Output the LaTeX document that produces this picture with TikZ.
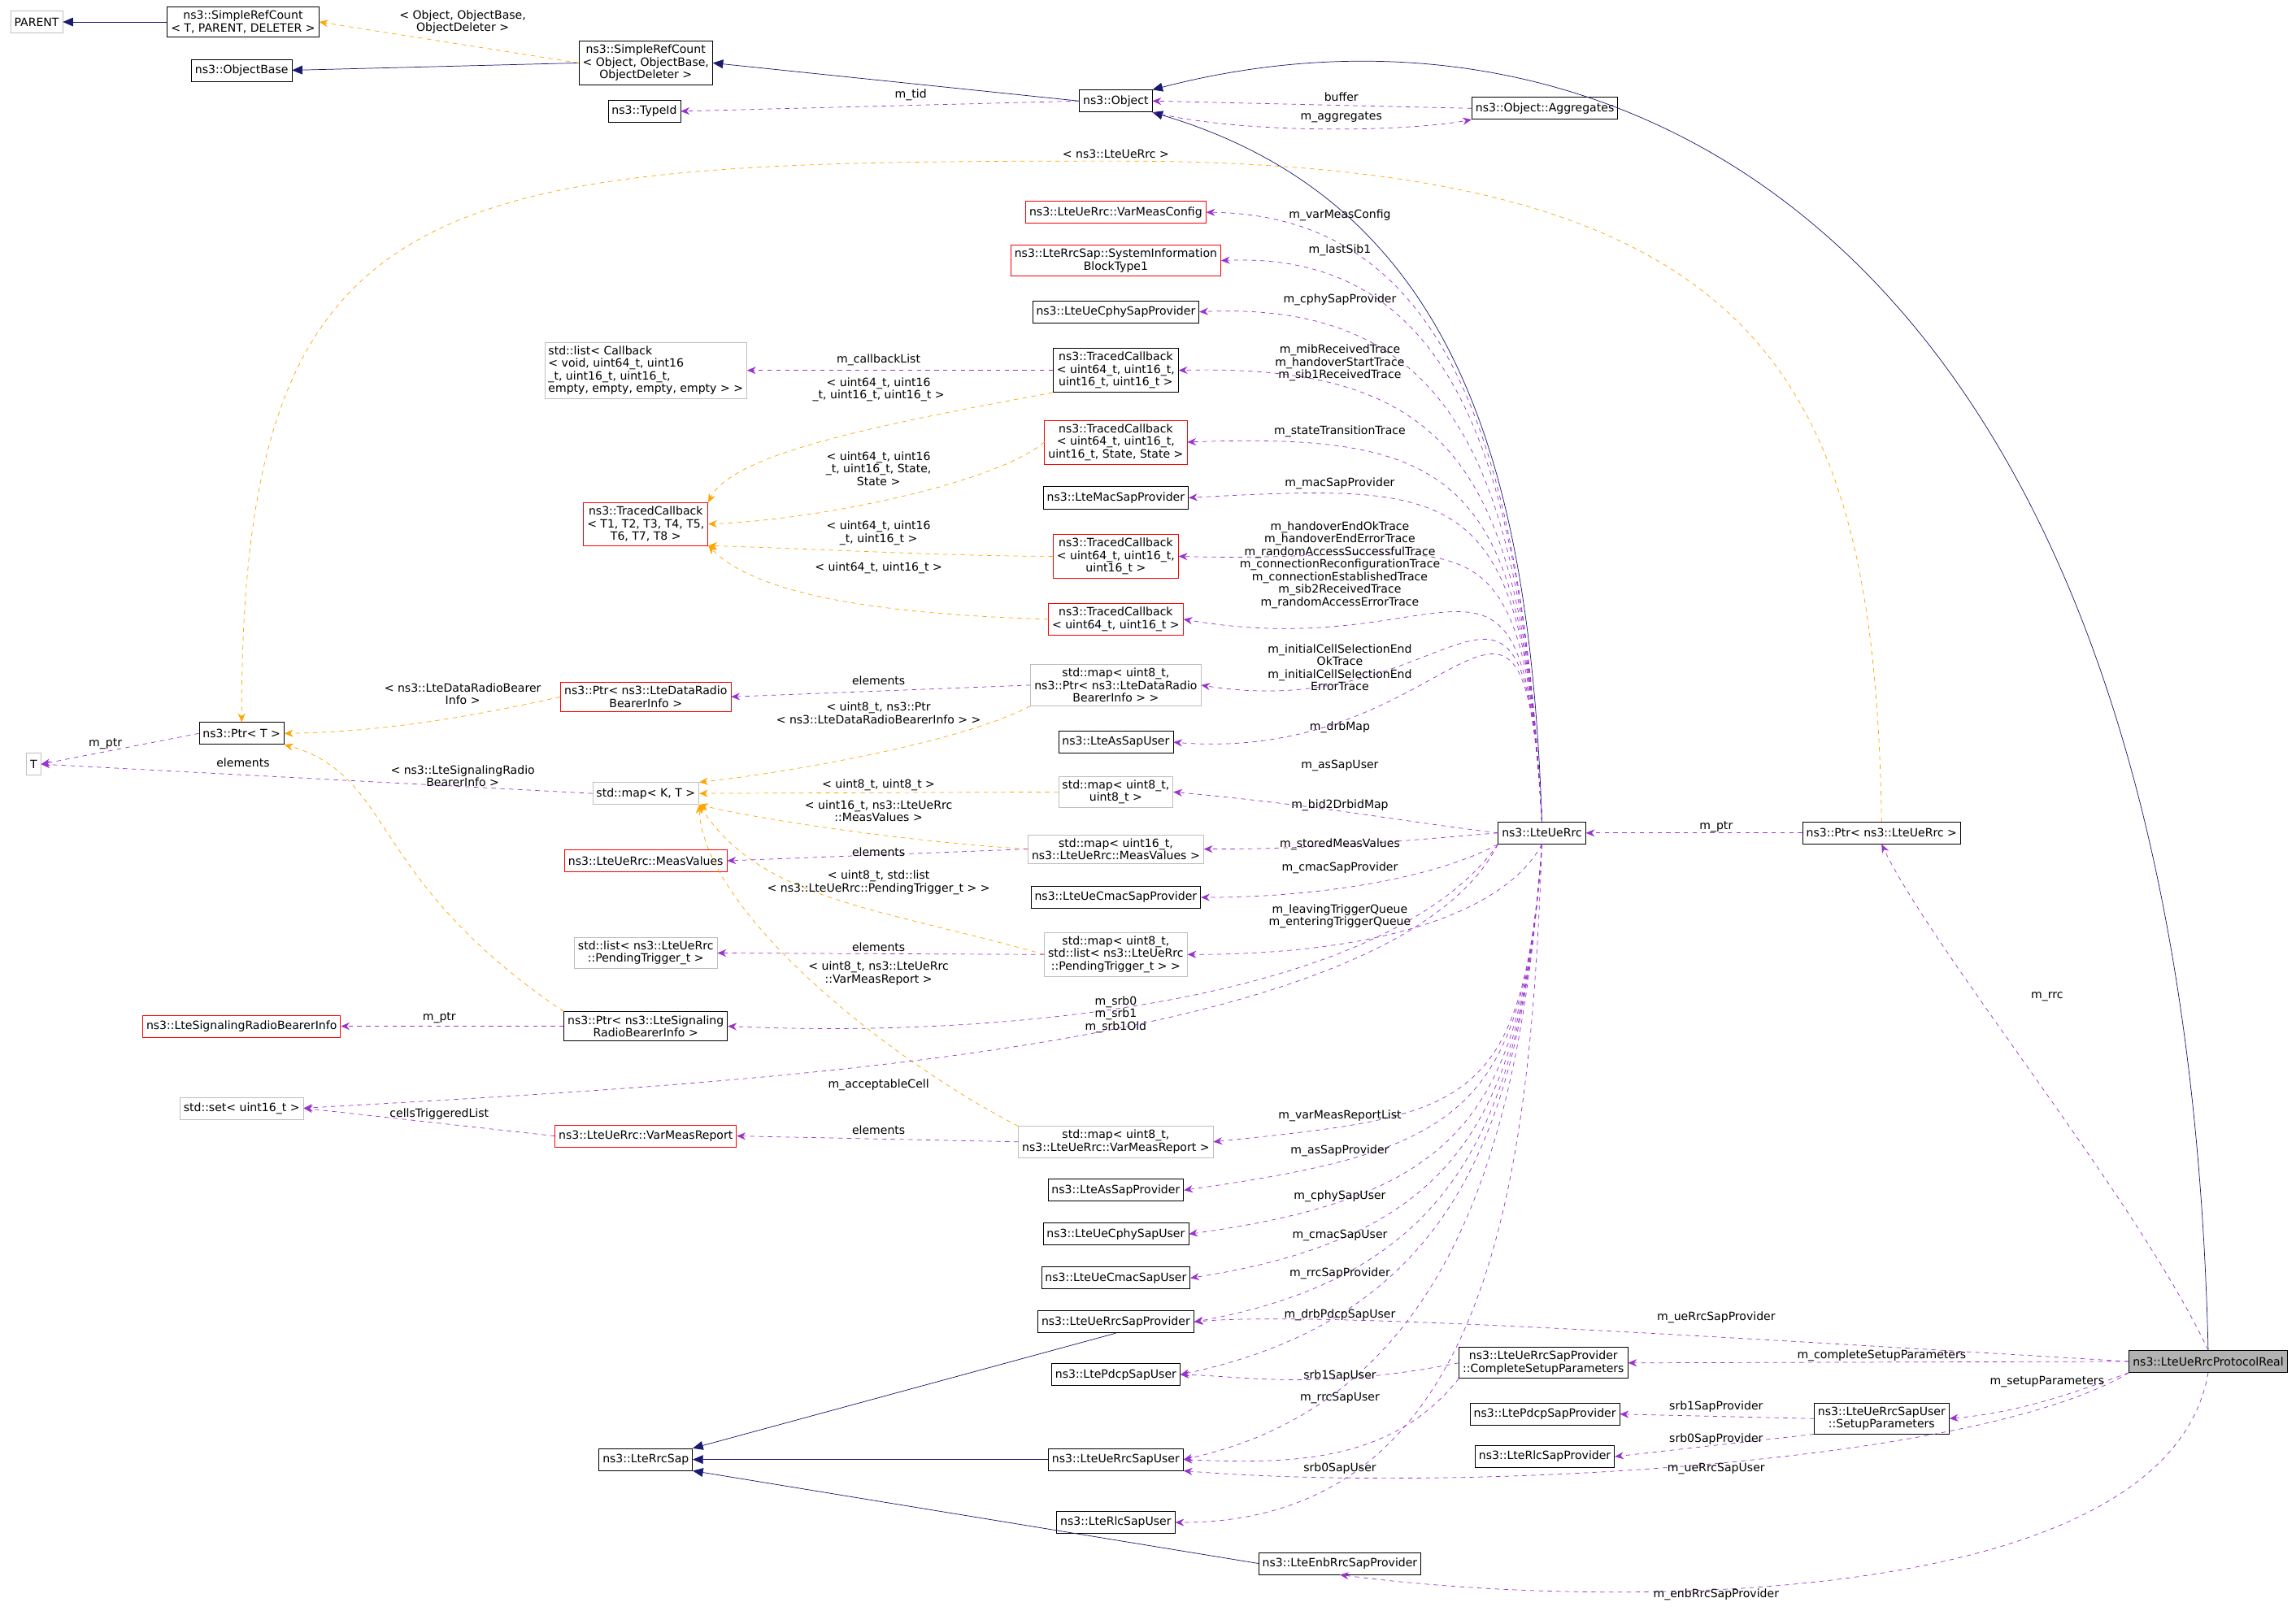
\documentclass[tikz,border=0pt]{standalone}
\usepackage{fontspec}
\setmainfont{DejaVu Sans}
\usetikzlibrary{arrows.meta}
\definecolor{mem}{HTML}{9A32CD}
\definecolor{tpl}{HTML}{FFA500}
\definecolor{inh}{HTML}{191970}
\tikzset{
 bx/.style={draw=black,fill=white,font=\fontsize{7.8}{8.6}\selectfont,inner sep=2.5pt,align=center,minimum height=15pt},
 gbx/.style={bx,draw=gray!50},
 rbx/.style={bx,draw=red},
 lbl/.style={font=\fontsize{7.8}{8.6}\selectfont,align=center,inner sep=0pt},
 inhl/.style={draw=inh,-{Triangle[length=7pt,width=6pt]},fill=none},
 meml/.style={draw=mem,dashed,-{Stealth[length=6pt,width=5pt,fill=mem]}},
 tpll/.style={draw=tpl,dashed,-{Stealth[length=6pt,width=5pt,fill=tpl]}},
}
\begin{document}
\begin{tikzpicture}[x=1pt,y=-1pt]
\useasboundingbox[fill=white] (0,0) rectangle (1568,1100);
% nodes
\node[gbx] (PARENT) at (25,15) {PARENT};
\node[bx] (SRC1) at (166,15) {ns3::SimpleRefCount\\< T, PARENT, DELETER >};
\node[bx] (OB) at (165,48) {ns3::ObjectBase};
\node[bx] (SRC2) at (441,43) {ns3::SimpleRefCount\\< Object, ObjectBase,\\ObjectDeleter >};
\node[bx] (TID) at (440,76) {ns3::TypeId};
\node[bx] (OBJ) at (762,69) {ns3::Object};
\node[bx] (AGG) at (1055,74) {ns3::Object::Aggregates};
\node[rbx] (VMC) at (762,145) {ns3::LteUeRrc::VarMeasConfig};
\node[rbx] (SIB) at (762,178) {ns3::LteRrcSap::SystemInformation\\BlockType1};
\node[bx] (CPP) at (762,213) {ns3::LteUeCphySapProvider};
\node[gbx,align=left] (LCB) at (441,253) {std::list< Callback\\< void, uint64\_t, uint16\\\_t, uint16\_t, uint16\_t,\\ empty, empty, empty, empty > >};
\node[bx] (TC4) at (762,253) {ns3::TracedCallback\\< uint64\_t, uint16\_t,\\ uint16\_t, uint16\_t >};
\node[rbx] (TCS) at (762,302) {ns3::TracedCallback\\< uint64\_t, uint16\_t,\\ uint16\_t, State, State >};
\node[rbx] (TCT) at (441,358) {ns3::TracedCallback\\< T1, T2, T3, T4, T5,\\ T6, T7, T8 >};
\node[bx] (MSP) at (762,340) {ns3::LteMacSapProvider};
\node[rbx] (TC3) at (762,380) {ns3::TracedCallback\\< uint64\_t, uint16\_t,\\ uint16\_t >};
\node[rbx] (TC2) at (762,423) {ns3::TracedCallback\\< uint64\_t, uint16\_t >};
\node[rbx] (PDR) at (441,476) {ns3::Ptr< ns3::LteDataRadio\\BearerInfo >};
\node[gbx] (MDR) at (762,468) {std::map< uint8\_t,\\ ns3::Ptr< ns3::LteDataRadio\\BearerInfo > >};
\node[bx] (PT) at (165,501) {ns3::Ptr< T >};
\node[gbx] (T) at (23,522) {T};
\node[bx] (ASU) at (762,507) {ns3::LteAsSapUser};
\node[gbx] (MKT) at (441,542) {std::map< K, T >};
\node[gbx] (M88) at (762,541) {std::map< uint8\_t,\\ uint8\_t >};
\node[rbx] (MV) at (441,588) {ns3::LteUeRrc::MeasValues};
\node[gbx] (MMV) at (762,580) {std::map< uint16\_t,\\ ns3::LteUeRrc::MeasValues >};
\node[bx] (CMP) at (762,613) {ns3::LteUeCmacSapProvider};
\node[gbx] (LPT) at (441,651) {std::list< ns3::LteUeRrc\\::PendingTrigger\_t >};
\node[gbx] (MPT) at (762,652) {std::map< uint8\_t,\\ std::list< ns3::LteUeRrc\\::PendingTrigger\_t > >};
\node[rbx] (SRB) at (165,701) {ns3::LteSignalingRadioBearerInfo};
\node[bx] (PSR) at (441,701) {ns3::Ptr< ns3::LteSignaling\\RadioBearerInfo >};
\node[gbx] (SET) at (165,757) {std::set< uint16\_t >};
\node[rbx] (VMR) at (441,776) {ns3::LteUeRrc::VarMeasReport};
\node[gbx] (MVR) at (762,780) {std::map< uint8\_t,\\ ns3::LteUeRrc::VarMeasReport >};
\node[bx] (ASP) at (762,813) {ns3::LteAsSapProvider};
\node[bx] (CSU) at (762,843) {ns3::LteUeCphySapUser};
\node[bx] (CMU) at (762,873) {ns3::LteUeCmacSapUser};
\node[bx] (URP) at (762,903) {ns3::LteUeRrcSapProvider};
\node[bx] (PSU) at (762,939) {ns3::LtePdcpSapUser};
\node[bx] (RS) at (441,997) {ns3::LteRrcSap};
\node[bx] (URU) at (762,997) {ns3::LteUeRrcSapUser};
\node[bx] (RLU) at (762,1040) {ns3::LteRlcSapUser};
\node[bx] (ENB) at (915,1068) {ns3::LteEnbRrcSapProvider};
\node[bx] (UR) at (1053,569) {ns3::LteUeRrc};
\node[bx] (CSP) at (1054,931) {ns3::LteUeRrcSapProvider\\::CompleteSetupParameters};
\node[bx] (PSP) at (1055,966) {ns3::LtePdcpSapProvider};
\node[bx] (RSP) at (1055,995) {ns3::LteRlcSapProvider};
\node[bx] (SUP) at (1285,969) {ns3::LteUeRrcSapUser\\::SetupParameters};
\node[bx] (PUR) at (1285,569) {ns3::Ptr< ns3::LteUeRrc >};
\node[bx,fill=gray!60] (PR) at (1508,930) {ns3::LteUeRrcProtocolReal};
% inheritance
\draw[inhl] (SRC1.west) -- (PARENT.east);
\draw[inhl] (SRC2.west) -- (OB.east);
\draw[inhl] (OBJ.west) -- (SRC2.east);
\draw[inhl] (UR.north) .. controls (1045,330) and (1000,140) .. (OBJ.south east);
\draw[inhl] (PR.north) .. controls (1490,150) and (1100,-20) .. (OBJ.north east);
\draw[inhl] (URP.south) -- (RS.north east);
\draw[inhl] (URU.west) -- (RS.east);
\draw[inhl] (ENB.west) -- (RS.south east);
% templates
\draw[tpll] (SRC2.west) -- (SRC1.east);
\node[lbl] (t1) at (316,15) {< Object, ObjectBase,\\ObjectDeleter >};
\draw[tpll] (PUR.north) .. controls (1280,250) and (1200,110) .. (762,110) .. controls (300,110) and (165,120) .. (PT.north);
\node[lbl] (t2) at (762,105) {< ns3::LteUeRrc >};
\draw[tpll] (TC4.south west) .. controls (600,290) and (500,310) .. (TCT.north east);
\node[lbl] (t3) at (600,266) {< uint64\_t, uint16\\\_t, uint16\_t, uint16\_t >};
\draw[tpll] (TCS.west) .. controls (680,330) and (560,355) .. (TCT.east);
\node[lbl] (t4) at (600,320) {< uint64\_t, uint16\\\_t, uint16\_t, State,\\State >};
\draw[tpll] (TC3.west) .. controls (650,380) and (560,375) .. (TCT.south east);
\node[lbl] (t5) at (600,364) {< uint64\_t, uint16\\\_t, uint16\_t >};
\draw[tpll] (TC2.west) .. controls (620,420) and (520,410) .. (TCT.south east);
\node[lbl] (t6) at (600,388) {< uint64\_t, uint16\_t >};
\draw[tpll] (PDR.west) .. controls (320,490) and (260,500) .. (PT.east);
\node[lbl] (t7) at (316,474) {< ns3::LteDataRadioBearer\\Info >};
\draw[tpll] (PSR.north west) .. controls (250,600) and (270,530) .. (PT.south east);
\node[lbl] (t8) at (316,530) {< ns3::LteSignalingRadio\\BearerInfo >};
\draw[tpll] (MDR.south west) .. controls (650,510) and (520,530) .. (MKT.north east);
\node[lbl] (t9) at (600,487) {< uint8\_t, ns3::Ptr\\< ns3::LteDataRadioBearerInfo > >};
\draw[tpll] (M88.west) -- (MKT.east);
\node[lbl] (t10) at (600,536) {< uint8\_t, uint8\_t >};
\draw[tpll] (MMV.west) .. controls (620,575) and (520,560) .. (MKT.south east);
\node[lbl] (t11) at (600,554) {< uint16\_t, ns3::LteUeRrc\\::MeasValues >};
\draw[tpll] (MPT.west) .. controls (600,620) and (520,615) .. (MKT.south east);
\node[lbl] (t12) at (600,603) {< uint8\_t, std::list\\< ns3::LteUeRrc::PendingTrigger\_t > >};
\draw[tpll] (MVR.north west) .. controls (600,720) and (480,620) .. (MKT.south east);
\node[lbl] (t13) at (600,665) {< uint8\_t, ns3::LteUeRrc\\::VarMeasReport >};
% members
\draw[meml] (OBJ.west) -- (TID.east); \node[lbl] (m1) at (622,65) {m\_tid};
\draw[meml] (AGG.west) -- (OBJ.east); \node[lbl] (m2) at (916,66) {buffer};
\draw[meml] (OBJ.south east) .. controls (850,92) and (960,90) .. (AGG.south west); \node[lbl] (m3) at (916,80) {m\_aggregates};
\draw[meml] (TC4.west) -- (LCB.east); \node[lbl] (m4) at (600,246) {m\_callbackList};
\draw[meml] (PT.west) -- (T.east); \node[lbl] (m5) at (72,508) {m\_ptr};
\draw[meml] (MKT.west) -- (T.east); \node[lbl] (m6) at (166,521) {elements};
\draw[meml] (MDR.west) -- (PDR.east); \node[lbl] (m7) at (600,465) {elements};
\draw[meml] (MMV.west) -- (MV.east); \node[lbl] (m8) at (600,582) {elements};
\draw[meml] (MPT.west) -- (LPT.east); \node[lbl] (m9) at (600,647) {elements};
\draw[meml] (PSR.west) -- (SRB.east); \node[lbl] (m10) at (300,695) {m\_ptr};
\draw[meml] (VMR.west) -- (SET.east); \node[lbl] (m11) at (300,761) {cellsTriggeredList};
\draw[meml] (MVR.west) -- (VMR.east); \node[lbl] (m12) at (600,772) {elements};
\foreach \t/\tx/\ly in {VMC/{m\_varMeasConfig}/147, SIB/{m\_lastSib1}/171, CPP/{m\_cphySapProvider}/205,
  TC4/{m\_mibReceivedTrace\\m\_handoverStartTrace\\m\_sib1ReceivedTrace}/248, TCS/{m\_stateTransitionTrace}/295,
  MSP/{m\_macSapProvider}/330,
  TC3/{m\_handoverEndOkTrace\\m\_handoverEndErrorTrace\\m\_randomAccessSuccessfulTrace\\m\_connectionReconfigurationTrace\\m\_connectionEstablishedTrace\\m\_sib2ReceivedTrace\\m\_randomAccessErrorTrace}/386,
  TC2/{m\_initialCellSelectionEnd\\OkTrace\\m\_initialCellSelectionEnd\\ErrorTrace}/456,
  MDR/{m\_drbMap}/497, ASU/{m\_asSapUser}/523}{
  \draw[meml] (UR.north) .. controls (1040,330) and (1000,\ly) .. (\t.east);
  \node[lbl] (L\t) at (915,\ly) {\tx};
}
\draw[meml] (UR.west) .. controls (950,560) and (900,550) .. (M88.east); \node[lbl] (LM88) at (915,550) {m\_bid2DrbidMap};
\draw[meml] (UR.west) .. controls (950,575) and (900,580) .. (MMV.east); \node[lbl] (LMMV) at (915,577) {m\_storedMeasValues};
\draw[meml] (UR.south west) .. controls (980,600) and (900,613) .. (CMP.east); \node[lbl] (LCMP) at (915,593) {m\_cmacSapProvider};
\draw[meml] (UR.south) .. controls (1030,620) and (950,652) .. (MPT.east); \node[lbl] (LMPT) at (915,626) {m\_leavingTriggerQueue\\m\_enteringTriggerQueue};
\draw[meml] (UR.south west) .. controls (950,680) and (700,710) .. (PSR.east); \node[lbl] (LPSR) at (762,693) {m\_srb0\\m\_srb1\\m\_srb1Old};
\draw[meml] (UR.south west) .. controls (950,720) and (500,740) .. (SET.east); \node[lbl] (LSET) at (600,741) {m\_acceptableCell};
\foreach \t/\tx/\ly in {MVR/{m\_varMeasReportList}/762, ASP/{m\_asSapProvider}/786, CSU/{m\_cphySapUser}/817,
  CMU/{m\_cmacSapUser}/844, URP/{m\_rrcSapProvider}/870, PSU/{m\_drbPdcpSapUser}/898, URU/{m\_rrcSapUser}/955}{
  \draw[meml] (UR.south) .. controls (1040,760) and (1000,\ly) .. (\t.east);
  \node[lbl] (L\t) at (915,\ly) {\tx};
}
\draw[meml] (UR.south) .. controls (1045,800) and (1020,1040) .. (RLU.east);
\draw[meml] (CSP.west) .. controls (900,950) and (850,940) .. (PSU.east); \node[lbl] (Ls1) at (915,940) {srb1SapUser};
\draw[meml] (CSP.south west) .. controls (950,1000) and (880,1000) .. (URU.east); \node[lbl] (Ls0) at (915,1003) {srb0SapUser};
\draw[meml] (PUR.west) -- (UR.east); \node[lbl] (m20) at (1172,565) {m\_ptr};
\draw[meml] (PR.north) .. controls (1460,820) and (1320,650) .. (PUR.south); \node[lbl] (m21) at (1398,681) {m\_rrc};
\draw[meml] (PR.west) .. controls (1200,915) and (900,895) .. (URP.east); \node[lbl] (m22) at (1172,900) {m\_ueRrcSapProvider};
\draw[meml] (PR.west) -- (CSP.east); \node[lbl] (m23) at (1285,926) {m\_completeSetupParameters};
\draw[meml] (PR.south west) .. controls (1420,950) and (1380,965) .. (SUP.east); \node[lbl] (m24) at (1398,944) {m\_setupParameters};
\draw[meml] (SUP.west) -- (PSP.east); \node[lbl] (m25) at (1172,961) {srb1SapProvider};
\draw[meml] (SUP.south west) -- (RSP.east); \node[lbl] (m26) at (1172,983) {srb0SapProvider};
\draw[meml] (PR.south west) .. controls (1350,1000) and (1000,1020) .. (URU.south east); \node[lbl] (m27) at (1172,1003) {m\_ueRrcSapUser};
\draw[meml] (PR.south) .. controls (1480,1100) and (1100,1100) .. (ENB.south); \node[lbl] (m28) at (1172,1089) {m\_enbRrcSapProvider};
\end{tikzpicture}
\end{document}
